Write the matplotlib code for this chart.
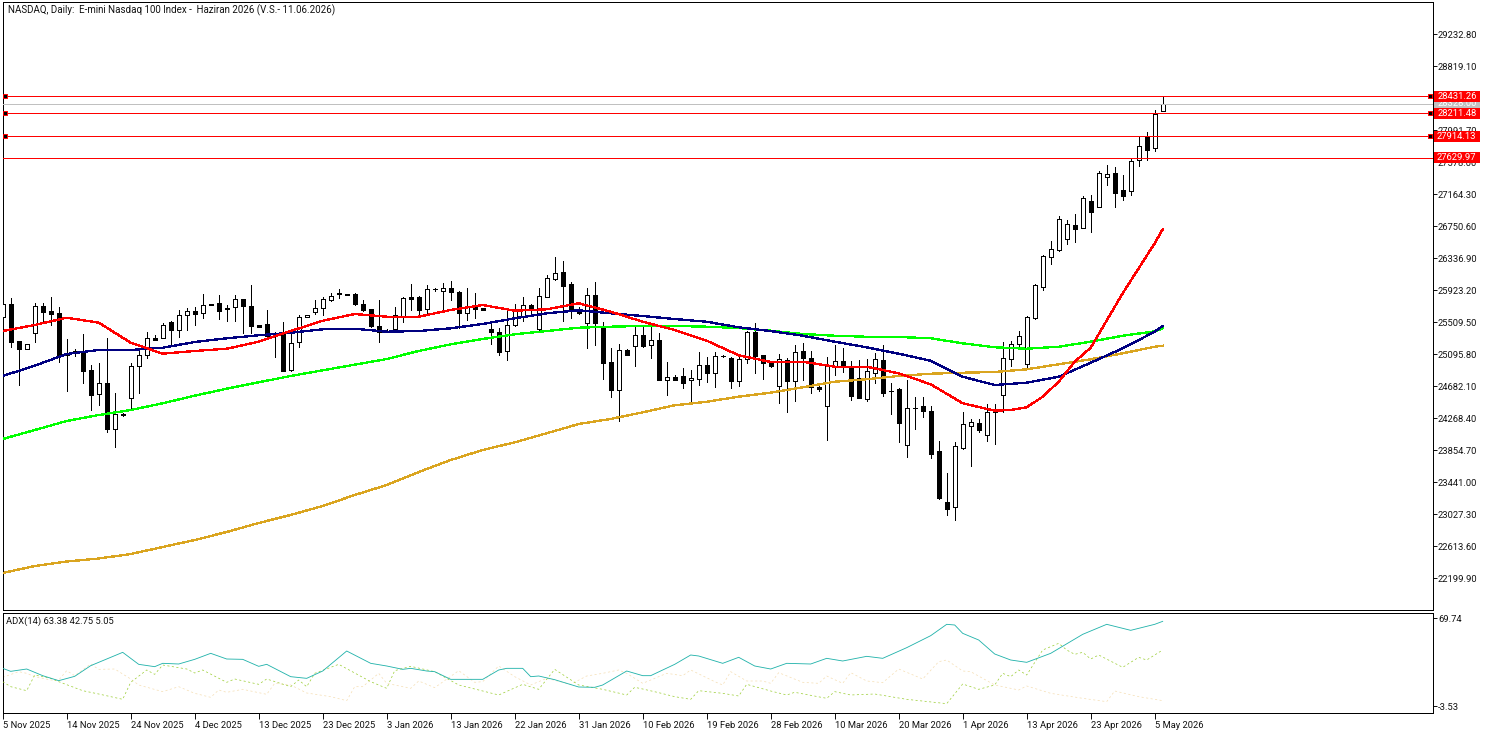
import matplotlib
matplotlib.use("Agg")
import matplotlib.pyplot as plt
from matplotlib.patches import Rectangle

opens = [25578,25742,25264,25156,25363,25716,25652,25622,25104,25113,
25126,24889,24574,24717,24122,24320,24523,24936,25079,25298,
25307,25505,25402,25596,25647,25622,25742,25751,25673,25699,
25803,25712,25466,25479,25363,25363,24885,25247,25570,25643,
25686,25798,25880,25871,25867,25738,25673,25453,25393,25423,
25579,25828,25828,25673,25932,25906,25945,25893,25630,25716,
25686,25415,25376,25139,25466,25579,25725,25423,25837,26070,
26152,25996,25665,25501,25859,25436,24992,24626,25148,25195,
25342,25217,25277,24764,24798,24807,24755,24768,24949,24855,
25066,25044,24751,25027,25380,25079,24984,24686,25018,24751,
25135,25044,24665,24428,24945,25005,24932,24781,24518,24855,
25018,24613,24643,23924,24398,24424,24359,23842,23183,23122,
23885,24169,24200,24053,24346,24562,25036,25225,24971,25561,
25966,26346,26440,26587,26764,26729,27070,27001,27388,27432,
27212,27208,27608,27901,27763,28242]
highs = [25742,25816,25264,25221,25751,25759,25828,25708,25285,25156,
25350,24954,24975,25298,24587,24337,24984,25147,25380,25337,
25492,25518,25665,25691,25699,25871,25742,25858,25729,25858,
25803,25988,25475,25665,25385,25505,25363,25596,25596,25794,
25828,25889,25932,25871,25889,25794,25673,25794,25415,25699,
25837,26001,25846,25988,25953,26009,26040,25915,25945,25880,
25690,25484,25428,25665,25742,25837,25742,25945,26117,26346,
26298,26031,25708,25945,26022,25510,25169,25221,25160,25458,
25449,25441,25372,24988,24820,24915,24889,25117,25053,25126,
25083,25053,25083,25398,25492,25079,24997,25096,25040,25212,
25234,25135,24695,25053,25212,25174,25010,25018,25027,25113,
25212,24717,24652,24760,24536,24536,24424,23971,23553,23963,
24342,24256,24256,24445,24445,25247,25264,25398,25587,26001,
26376,26557,26880,26828,26906,27139,27151,27466,27539,27509,
27410,27617,27906,27966,28250,28423]
lows = [25578,25182,24695,25156,25255,25492,25471,24997,24622,25070,
24725,24372,24436,24092,23898,24294,24380,24596,25040,25281,
25298,25199,25320,25406,25471,25561,25725,25553,25527,25527,
25372,25363,25445,25298,25061,24880,24880,25191,25570,25613,
25600,25785,25824,25854,25729,25656,25449,25255,25376,25385,
25514,25665,25579,25600,25915,25643,25794,25428,25535,25557,
25665,25225,25083,25018,25458,25527,25622,25393,25828,26053,
25527,25557,25613,25178,25212,24777,24544,24234,25083,24945,
25191,25048,24760,24570,24760,24656,24458,24695,24738,24674,
25061,24661,24682,24984,24855,24773,24932,24467,24350,24493,
24760,24596,24622,23984,24824,24868,24501,24531,24493,24725,
24557,24320,23958,23769,24126,24277,23751,23221,23015,22950,
23872,23648,24088,23971,23932,24350,24941,25191,24911,25553,
25923,26259,26432,26518,26544,26721,26678,27001,27281,27001,
27087,27151,27526,27604,27720,28242]
closes = [25742,25255,25165,25221,25716,25643,25617,25083,25087,25139,
24880,24570,24717,24130,24320,24311,24936,25079,25298,25281,
25466,25402,25596,25647,25617,25725,25725,25656,25695,25803,
25712,25462,25449,25328,25346,24880,25242,25570,25596,25686,
25803,25850,25867,25854,25738,25669,25462,25376,25391,25596,
25816,25811,25669,25932,25934,25945,25902,25630,25708,25682,
25669,25385,25126,25466,25652,25725,25665,25846,26074,26139,
25979,25665,25630,25854,25501,24984,24635,25143,25087,25337,
25199,25273,24764,24794,24764,24725,24781,24949,24855,25066,
25068,24751,25027,25380,25070,24984,24941,25027,24751,25117,
25049,24665,24648,24954,25001,24932,24557,24531,24872,25031,
24596,24615,24208,24394,24402,24363,23807,23234,23096,23902,
24187,24212,24113,24342,24389,25040,25230,25329,25579,25984,
26363,26458,26837,26772,26716,27108,26936,27432,27419,27182,
27143,27587,27781,27738,28203,28328]

ma_bars = list(range(0, 145, 4)) + [145]
red_bars = list(range(0, 125, 4)) + [126, 128, 130, 132, 134, 136, 140, 144, 145]
ma_red = [25393,25471,25565,25501,25242,25100,25135,25164,25255,25393,25526,25613,25578,
25578,25665,25729,25656,25674,25751,25643,25513,25406,25268,25079,24993,24996,
24932,24932,24846,24704,24459,24363,24372,24407,24544,24738,24996,25177,25881,26527,26708]
ma_blue = [24812,24945,25096,25148,25148,25177,25251,25299,25338,25371,25415,25423,25384,
25393,25428,25484,25557,25622,25661,25622,25587,25548,25513,25441,25393,25332,
25255,25182,25100,25009,24802,24695,24725,24802,24983,25170,25384,25458]
ma_green = [23997,24113,24230,24307,24372,24459,24557,24647,24730,24812,24885,24958,25031,
25135,25221,25290,25351,25393,25436,25449,25458,25458,25449,25432,25397,25355,
25332,25319,25316,25299,25234,25183,25164,25190,25255,25332,25389,25428]
ma_gold = [22265,22355,22413,22452,22510,22601,22691,22795,22911,23015,23131,23273,23402,
23570,23725,23855,23954,24071,24191,24256,24342,24433,24479,24544,24596,24665,
24738,24769,24812,24841,24854,24863,24898,24963,25028,25105,25190,25203]

adx_bars = [0,1,3,5,7,9,11,15,17,19,20,22,24,26,28,30,32,33,36,38,40,43,46,48,50,51,53,54,56,60,
62,63,65,66,67,69,72,74,75,78,80,81,84,86,87,90,92,94,96,98,101,103,105,108,110,113,116,118,119,120,
122,124,126,128,131,135,138,141,144,145]
adx_vals = [27.83,25.33,27.27,21.73,17.56,21.17,30.05,41.15,31.16,29.22,
32.0,31.44,35.32,40.32,35.6,35.32,29.5,31.16,20.89,19.5,
25.61,42.26,32.0,29.78,27.0,27.83,25.61,25.05,18.67,18.67,
26.44,27.83,27.83,20.89,21.45,18.39,12.29,12.01,13.95,25.61,
21.73,21.73,31.16,38.93,38.1,32.0,37.01,29.78,27.27,32.0,
31.44,36.16,33.94,37.82,36.16,45.04,55.03,64.47,63.91,56.97,
51.42,39.77,34.77,32.83,40.32,56.14,64.47,59.47,64.47,66.96]

plus_bars = [0,1,3,4,6,7,10,12,15,16,18,19,20,23,24,25,28,29,32,33,36,37,38,39,42,46,48,49,51,54,
57,62,65,67,69,72,75,78,79,80,82,84,86,87,90,92,93,96,98,99,103,104,106,109,113,118,120,122,124,125,
126,127,128,130,132,133,134,135,136,137,140,142,143,145]
plus_vals = [16.73,12.56,9.23,22.28,19.51,16.73,9.23,6.46,2.03,16.18,
26.45,22.84,30.61,27.28,23.95,26.45,16.18,18.96,14.52,18.96,
12.56,18.12,12.56,23.67,31.16,16.73,11.18,25.89,29.5,25.06,
13.96,5.64,14.52,10.35,26.99,13.96,10.35,5.64,12.02,10.63,
7.58,4.25,2.03,9.23,7.02,4.8,14.52,8.96,5.64,7.86,
2.86,8.41,5.64,6.46,2.03,-1.58,14.79,10.35,13.96,23.67,
20.9,26.45,22.28,43.1,48.65,43.1,39.49,41.15,35.6,38.93,
28.67,37.0,34.77,43.1]

minus_bars = [0,2,3,4,6,7,8,9,11,12,14,16,17,20,22,24,26,27,28,30,33,34,36,38,41,43,44,45,47,48,
51,52,54,57,59,60,62,64,66,68,70,71,73,75,77,78,80,81,83,85,86,89,90,91,93,95,96,97,100,102,
103,105,106,108,110,112,115,117,118,120,121,124,127,128,131,135,138,139,142,145]
minus_vals = [20.34,25.06,23.67,20.9,18.12,18.12,25.89,21.73,31.44,26.99,
27.28,18.96,13.96,8.41,12.56,7.02,3.69,9.8,7.86,10.35,
6.19,15.35,13.96,7.3,4.25,0.92,12.56,12.56,23.67,15.35,
11.18,17.29,11.74,25.89,16.18,16.73,29.78,20.9,13.96,19.51,
16.18,14.52,21.45,23.67,26.45,23.67,15.35,18.12,23.67,21.73,
26.45,16.73,13.96,25.06,17.29,17.29,15.35,24.23,16.18,15.35,
21.45,15.35,24.23,17.29,15.9,27.28,18.96,33.39,34.77,25.61,
25.06,13.96,9.8,13.13,7.02,2.86,0.09,8.96,4.25,0.92]

price_ticks = [29232.80,28819.10,28405.40,27991.70,27578.00,27164.30,26750.60,26336.90,25923.20,
25509.50,25095.80,24682.10,24268.40,23854.70,23441.00,23027.30,22613.60,22199.90]
adx_ticks = [69.74,-3.53]
date_labels = ["5 Nov 2025","14 Nov 2025","24 Nov 2025","4 Dec 2025","13 Dec 2025","23 Dec 2025",
"3 Jan 2026","13 Jan 2026","22 Jan 2026","31 Jan 2026","10 Feb 2026","19 Feb 2026","28 Feb 2026",
"10 Mar 2026","20 Mar 2026","1 Apr 2026","13 Apr 2026","23 Apr 2026","5 May 2026"]
date_bars = [8*k for k in range(len(date_labels))]
red_levels = [28431.26,28211.48,27914.13,27629.97]
anchored = [True,True,True,False]
bid_level = 28328.00

W, H = 1490, 733
PX = 1.0/100*72  # points per pixel
plt.rcParams['font.family'] = ['Roboto', 'DejaVu Sans']
FS = 6.75
fig = plt.figure(figsize=(W/100, H/100), dpi=100, facecolor='white')

def axes_px(l, t, r, b):
    return fig.add_axes([l/W, 1-b/H, (r-l)/W, (b-t)/H])

ax = axes_px(2.5, 1.5, 1432.5, 609.5)
sub = axes_px(2.5, 612.5, 1432.5, 712.5)
for a in (ax, sub):
    a.set_xlim(-0.025, 178.725)
    for s in a.spines.values():
        s.set_linewidth(PX); s.set_color('black'); s.set_antialiased(False)
ax.set_ylim(21792.8, 29653.0)
sub.set_ylim(-8.94, 74.32)

# candles
n = len(opens)
bars = list(range(n))
ax.vlines(bars, lows, highs, colors='black', linewidth=PX, antialiased=False, zorder=2)
for i in bars:
    up = closes[i] >= opens[i]
    lo = min(opens[i], closes[i]); hi = max(opens[i], closes[i])
    ax.bar(i, hi-lo, bottom=lo, width=0.5, facecolor='white' if up else 'black',
           edgecolor='black', linewidth=PX, antialiased=False, zorder=3)

# moving averages
for xs, vals, col, z in ((ma_bars,ma_green,'#00FF00',4),(ma_bars,ma_gold,'#DAA520',4.1),
                         (ma_bars,ma_blue,'#000080',4.2),(red_bars,ma_red,'#FF0000',4.3)):
    ax.plot(xs, vals, color=col, linewidth=1.3*PX, antialiased=False, zorder=z)

# horizontal levels
ax.axhline(bid_level, color='#C0C0C0', linewidth=0.8*PX, antialiased=False, zorder=5)
for lev, anc in zip(red_levels, anchored):
    ax.axhline(lev, color='#FF0000', linewidth=0.8*PX, antialiased=False, zorder=5)
    if anc:
        ax.plot([0.0017, 0.9982], [lev, lev], transform=ax.get_yaxis_transform(), ls='none', marker='s',
                ms=4*PX, mfc='black', mec='red', mew=PX, zorder=6, clip_on=False)

# axis ticks
ax.yaxis.tick_right()
ax.set_yticks(price_ticks)
ax.set_yticklabels(['%.2f' % t for t in price_ticks])
ax.set_xticks([])
ax.tick_params(axis='y', length=3, width=PX, pad=1, labelsize=FS, colors='#111111')

# price boxes
tr = ax.get_yaxis_transform()
boxl, boxw = (1434-2.5)/1430, 45.5/1430
halfh = 5.5*(29653.0-21792.8)/608
def price_box(lev, bg, fg, z):
    ax.add_patch(Rectangle((boxl, lev-halfh), boxw, 2*halfh, transform=tr, facecolor=bg,
                           edgecolor='none', clip_on=False, zorder=z))
    ax.text(boxl+boxw/2, lev, '%.2f' % lev, transform=tr, color=fg, fontsize=FS, ha='center',
            va='center', zorder=z+0.1, clip_on=False)
price_box(bid_level, '#C0C0C0', 'white', 7)
for k, lev in enumerate(red_levels):
    price_box(lev, '#FF0000', 'white', 8+k)

ax.text(5/1430, 1-8.5/608, 'NASDAQ, Daily:  E-mini Nasdaq 100 Index -  Haziran 2026 (V.S.- 11.06.2026)',
        transform=ax.transAxes, fontsize=7.05, va='center', ha='left', color='#111111')

# ADX panel
sub.plot(minus_bars, minus_vals, color='#F5DEB3', linewidth=0.7*PX, ls=(0,(3,3.5)), zorder=2)
sub.plot(plus_bars, plus_vals, color='#9ACD32', linewidth=0.7*PX, ls=(0,(3,3.5)), zorder=3)
sub.plot(adx_bars, adx_vals, color='#20B2AA', linewidth=0.85*PX, zorder=4)
sub.yaxis.tick_right()
sub.set_yticks(adx_ticks)
sub.set_yticklabels(['%.2f' % t for t in adx_ticks])
sub.tick_params(axis='y', length=3, width=PX, pad=1, labelsize=FS, colors='#111111')
sub.set_xticks(date_bars)
sub.set_xticklabels(date_labels, ha='left')
sub.tick_params(axis='x', length=4, width=PX, pad=2, labelsize=FS, colors='#111111')
sub.text(3.5/1430, 1-9/100, 'ADX(14) 63.38 42.75 5.05', transform=sub.transAxes, fontsize=FS,
         va='center', ha='left', color='#111111')

fig.savefig('out.png', dpi=100, facecolor='white')
